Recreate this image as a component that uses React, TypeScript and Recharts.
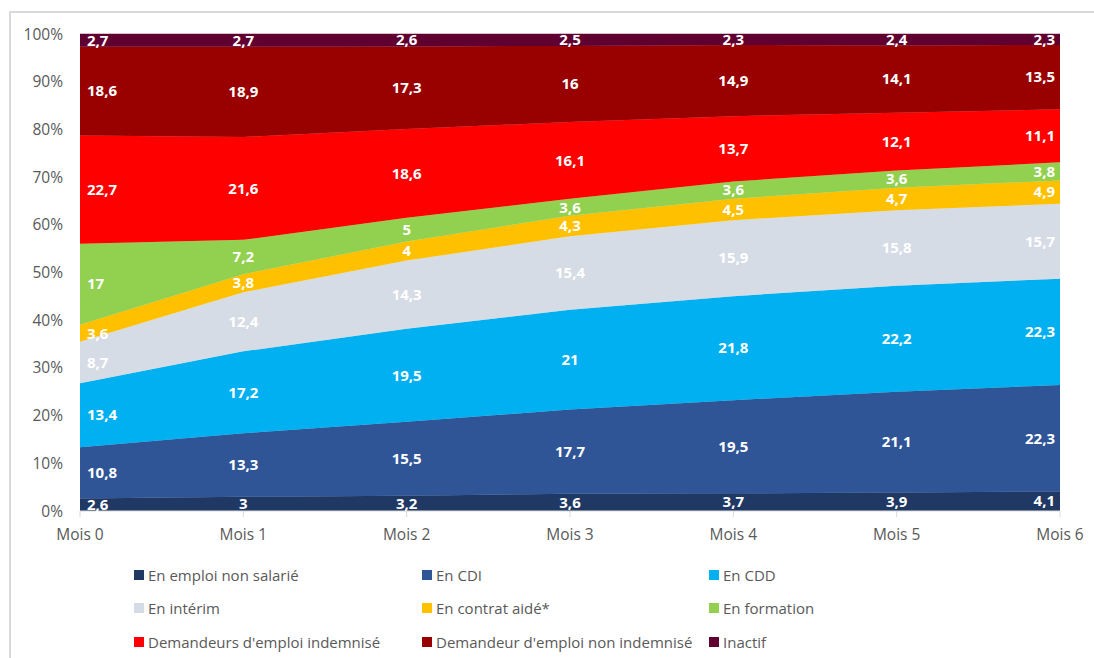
import React from "react";
import { AreaChart, Area, XAxis, YAxis } from "recharts";

const months = ["Mois 0", "Mois 1", "Mois 2", "Mois 3", "Mois 4", "Mois 5", "Mois 6"];
const yTickPercents = [0, 10, 20, 30, 40, 50, 60, 70, 80, 90, 100];

const nonSalarie = [2.6, 3, 3.2, 3.6, 3.7, 3.9, 4.1];
const cdi = [10.8, 13.3, 15.5, 17.7, 19.5, 21.1, 22.3];
const cdd = [13.4, 17.2, 19.5, 21, 21.8, 22.2, 22.3];
const interim = [8.7, 12.4, 14.3, 15.4, 15.9, 15.8, 15.7];
const contratAide = [3.6, 3.8, 4, 4.3, 4.5, 4.7, 4.9];
const formation = [17, 7.2, 5, 3.6, 3.6, 3.6, 3.8];
const indemnise = [22.7, 21.6, 18.6, 16.1, 13.7, 12.1, 11.1];
const nonIndemnise = [18.6, 18.9, 17.3, 16, 14.9, 14.1, 13.5];
const inactif = [2.7, 2.7, 2.6, 2.5, 2.3, 2.4, 2.3];

const series = [
  { key: "nonSalarie", name: "En emploi non salarié", color: "#203864", values: nonSalarie },
  { key: "cdi", name: "En CDI", color: "#2F5597", values: cdi },
  { key: "cdd", name: "En CDD", color: "#00B0F0", values: cdd },
  { key: "interim", name: "En intérim", color: "#D6DCE5", values: interim },
  { key: "contratAide", name: "En contrat aidé*", color: "#FFC000", values: contratAide },
  { key: "formation", name: "En formation", color: "#92D050", values: formation },
  { key: "indemnise", name: "Demandeurs d'emploi indemnisé", color: "#FF0000", values: indemnise },
  { key: "nonIndemnise", name: "Demandeur d'emploi non indemnisé", color: "#990000", values: nonIndemnise },
  { key: "inactif", name: "Inactif", color: "#600030", values: inactif },
];

const data = months.map((m, i) => {
  const row: Record<string, any> = { month: m };
  series.forEach((s) => {
    row[s.key] = s.values[i];
  });
  return row;
});

const totals = months.map((_, i) => series.reduce((a, s) => a + s.values[i], 0));

const CHART_W = 1094;
const CHART_H = 560;
const MARGIN = { top: 34, right: 34, bottom: 19, left: 0 };
const X_AXIS_H = 30;
const PLOT_H = CHART_H - MARGIN.top - MARGIN.bottom - X_AXIS_H;

const FONT = "'Open Sans', 'DejaVu Sans', sans-serif";

const makeLabel = (s: (typeof series)[number]) => (props: any) => {
  const i = props.index;
  const vb = props.viewBox || {};
  const x = props.x ?? vb.x;
  const y = props.y ?? vb.y;
  if (x == null || y == null || i == null) return null;
  const v = s.values[i];
  const cy = y + ((v / totals[i]) * PLOT_H) / 2;
  let anchor: "start" | "middle" | "end" = "middle";
  let tx = x;
  if (i === 0) {
    anchor = "start";
    tx = x + 7;
  } else if (i === months.length - 1) {
    anchor = "end";
    tx = x - 5;
  }
  return (
    <text
      key={`${s.key}-${i}`}
      x={tx}
      y={cy}
      dy="0.35em"
      textAnchor={anchor}
      fill="#FFFFFF"
      fontWeight={700}
      fontSize={15}
      fontFamily={FONT}
    >
      {String(v).replace(".", ",")}
    </text>
  );
};

const legendCols = [134, 422, 709];
const legendRows = [575, 608, 642];

export default function App() {
  return (
    <div
      style={{
        position: "fixed",
        left: 0,
        top: 0,
        width: 1094,
        height: 658,
        overflow: "hidden",
        background: "#fff",
        fontFamily: FONT,
      }}
    >
      <div
        style={{
          position: "absolute",
          left: 9,
          top: 11,
          width: 1200,
          height: 800,
          border: "2px solid #D9D9D9",
          boxSizing: "border-box",
        }}
      />
      <div style={{ position: "absolute", left: 0, top: 0 }}>
        <AreaChart
          width={CHART_W}
          height={CHART_H}
          data={data}
          stackOffset="expand"
          margin={MARGIN}
        >
          <XAxis
            dataKey="month"
            interval={0}
            height={X_AXIS_H}
            axisLine={{ stroke: "#D9D9D9" }}
            tickLine={{ stroke: "#D9D9D9" }}
            tickSize={6}
            tickMargin={12}
            tick={{ fill: "#595959", fontSize: 15.5, fontFamily: FONT }}
          />
          <YAxis
            type="number"
            domain={[0, 1]}
            ticks={yTickPercents.map((p) => p / 100)}
            tickFormatter={(v: number) => `${Math.round(v * 100)}%`}
            axisLine={false}
            tickLine={false}
            tickMargin={11}
            width={80}
            tick={{ fill: "#595959", fontSize: 15.5, fontFamily: FONT }}
          />
          {series.map((s) => (
            <Area
              key={s.key}
              type="linear"
              dataKey={s.key}
              name={s.name}
              stackId="1"
              stroke={s.color}
              strokeWidth={0.5}
              fill={s.color}
              fillOpacity={1}
              isAnimationActive={false}
              dot={false}
              activeDot={false}
              label={makeLabel(s)}
            />
          ))}
        </AreaChart>
      </div>
      {series.map((s, idx) => {
        const col = idx % 3;
        const row = Math.floor(idx / 3);
        return (
          <div
            key={s.key}
            style={{
              position: "absolute",
              left: legendCols[col],
              top: legendRows[row] - 11,
              height: 22,
              display: "flex",
              alignItems: "center",
              whiteSpace: "nowrap",
              fontSize: 15,
              color: "#595959",
            }}
          >
            <span
              style={{
                display: "inline-block",
                width: 10,
                height: 10,
                background: s.color,
                marginRight: 4,
              }}
            />
            <span>{s.name}</span>
          </div>
        );
      })}
    </div>
  );
}
